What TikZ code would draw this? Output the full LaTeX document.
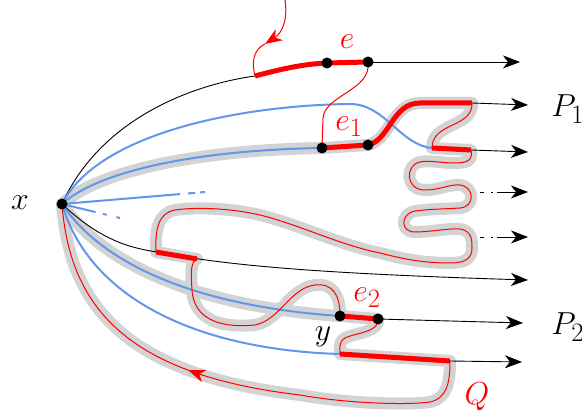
\documentclass[tikz,border=0pt]{standalone}
\usetikzlibrary{arrows.meta,decorations.markings}
\definecolor{bandgray}{RGB}{211,211,211}
\definecolor{cblue}{RGB}{100,149,237}
\tikzset{
  band/.style={draw=bandgray, line width=12pt, line cap=round, line join=round},
  bl/.style={draw=cblue, line width=2pt},
  thinred/.style={draw=red, line width=1pt},
  thickred/.style={draw=red, line width=5pt},
  blk/.style={draw=black, line width=0.9pt},
  arr/.style={-{Stealth[length=17pt,width=13pt,inset=5pt]}},
  dotnode/.style={circle, fill=black, inner sep=0pt, minimum size=11pt},
  lab/.style={inner sep=0pt, font=\Huge, scale=1.28},
  dashdot/.style={draw=black, line width=0.9pt, dash pattern=on 4pt off 7pt on 1.5pt off 30pt}
}
\begin{document}
\begin{tikzpicture}[x=1pt,y=-1pt]
\useasboundingbox (0,0) rectangle (582,419);
% named points
\coordinate (X) at (62,204);
\coordinate (eA) at (255,76);
\coordinate (eB) at (327,63);
\coordinate (eC) at (368,62);
\coordinate (eEnd) at (520,62);
\coordinate (d1) at (322,148);
\coordinate (d2) at (368,145);
\coordinate (t1) at (472,103);
\coordinate (p1end) at (528,105);
\coordinate (b1) at (432,148);
\coordinate (t2) at (471,150);
\coordinate (t2end) at (528,152);
\coordinate (w1) at (156,252);
\coordinate (w2) at (197,259);
\coordinate (yy) at (340,316);
\coordinate (ff) at (378,319);
\coordinate (p2end) at (523,323);
\coordinate (g1) at (340,354);
\coordinate (g2) at (450,361);
\coordinate (g2end) at (522,362);
\coordinate (blkend) at (528,280);
\coordinate (dd1a) at (480,192);
\coordinate (dd1b) at (497,192);
\coordinate (dd1c) at (528,192);
\coordinate (dd2a) at (480,237);
\coordinate (dd2b) at (497,237);
\coordinate (dd2c) at (528,237);
\coordinate (rTop) at (285,0);
\coordinate (rMid) at (265,44);
\coordinate (bs1) at (205,192);
\coordinate (bs2) at (120,218);

% gray bands
\path[band] (X) .. controls (100,170) and (200,150) .. (d1) -- (d2)
  .. controls (390,140) and (392,103) .. (420,103) -- (t1)
  .. controls (473,128) and (432,122) .. (b1) -- (t2)
  .. controls (473,160) and (468,163) .. (455,163)
  .. controls (440,163) and (430,160) .. (420,162)
  .. controls (405,165) and (405,190) .. (425,190)
  .. controls (440,190) and (450,184) .. (460,185)
  .. controls (475,187) and (475,207) .. (460,208)
  .. controls (445,209) and (430,209) .. (415,211)
  .. controls (400,214) and (400,232) .. (415,232)
  .. controls (430,232) and (450,228) .. (460,229)
  .. controls (472,231) and (472,240) .. (472,248)
  .. controls (472,258) and (466,263) .. (450,263)
  .. controls (420,263) and (400,258) .. (380,253)
  .. controls (340,245) and (300,225) .. (260,215)
  .. controls (230,208) and (195,207) .. (175,210)
  .. controls (158,213) and (155,230) .. (w1) -- (w2)
  .. controls (190,262) and (191,275) .. (192,290)
  .. controls (194,322) and (225,328) .. (255,325)
  .. controls (280,320) and (290,288) .. (315,285)
  .. controls (333,283) and (340,295) .. (yy) -- (ff)
  .. controls (380,332) and (355,333) .. (345,338)
  .. controls (338,342) and (340,350) .. (g1) -- (g2)
  .. controls (450,380) and (448,398) .. (430,402)
  .. controls (410,405) and (350,404) .. (300,395)
  .. controls (130,375) and (70,310) .. (X);
\path[band] (X) .. controls (110,275) and (220,308) .. (yy);

% black curves
\draw[blk] (X) .. controls (100,120) and (190,85) .. (eA);
\draw[blk, arr] (eC) -- (eEnd);
\draw[blk, arr] (X) .. controls (100,240) and (130,248) .. (157,252)
  .. controls (220,264) and (300,273) .. (blkend);
\draw[blk, arr] (t1) -- (p1end);
\draw[blk, arr] (t2) -- (t2end);
\draw[blk, arr] (ff) -- (p2end);
\draw[blk, arr] (g2) -- (g2end);
\draw[dashdot] (dd1a) -- (dd1b);
\draw[blk, arr] (dd1b) -- (dd1c);
\draw[dashdot] (dd2a) -- (dd2b);
\draw[blk, arr] (dd2b) -- (dd2c);

% blue curves
\draw[bl] (X) .. controls (100,130) and (250,105) .. (350,104)
  .. controls (385,104) and (400,145) .. (b1);
\draw[bl] (X) .. controls (100,170) and (200,150) .. (d1);
\draw[bl, dash pattern=on 118.6pt off 8pt on 7pt off 5pt on 6pt off 200pt] (X) -- (bs1);
\draw[bl, dash pattern=on 34.5pt off 7.5pt on 4pt off 10pt on 4pt off 100pt] (X) -- (bs2);
\draw[bl] (X) .. controls (110,275) and (220,308) .. (yy);
\draw[bl] (X) .. controls (90,300) and (200,350) .. (g1);

% thin red
\draw[thinred, arr] (rTop) .. controls (288,20) and (282,33) .. (rMid);
\draw[thinred] (rMid) .. controls (252,50) and (252,65) .. (eA);
\draw[thinred] (eC) .. controls (372,90) and (325,95) .. (323,118) -- (d1);
\draw[thinred] (t1) .. controls (473,128) and (432,122) .. (b1);
\draw[thinred] (t2)
  .. controls (473,160) and (468,163) .. (455,163)
  .. controls (440,163) and (430,160) .. (420,162)
  .. controls (405,165) and (405,190) .. (425,190)
  .. controls (440,190) and (450,184) .. (460,185)
  .. controls (475,187) and (475,207) .. (460,208)
  .. controls (445,209) and (430,209) .. (415,211)
  .. controls (400,214) and (400,232) .. (415,232)
  .. controls (430,232) and (450,228) .. (460,229)
  .. controls (472,231) and (472,240) .. (472,248)
  .. controls (472,258) and (466,263) .. (450,263)
  .. controls (420,263) and (400,258) .. (380,253)
  .. controls (340,245) and (300,225) .. (260,215)
  .. controls (230,208) and (195,207) .. (175,210)
  .. controls (158,213) and (155,230) .. (w1);
\draw[thinred] (w2)
  .. controls (190,262) and (191,275) .. (192,290)
  .. controls (194,322) and (225,328) .. (255,325)
  .. controls (280,320) and (290,288) .. (315,285)
  .. controls (333,283) and (340,295) .. (yy);
\draw[thinred] (ff)
  .. controls (380,332) and (355,333) .. (345,338)
  .. controls (338,342) and (340,350) .. (g1);
\draw[thinred, decoration={markings, mark=at position 0.57 with {\arrow{Stealth[length=17pt,width=13pt,inset=5pt]}}}, postaction={decorate}] (g2)
  .. controls (450,380) and (448,398) .. (430,402)
  .. controls (410,405) and (350,404) .. (300,395)
  .. controls (130,375) and (70,310) .. (X);

% thick red
\draw[thickred] (eA) .. controls (285,68) and (305,64) .. (eB) -- (eC);
\draw[thickred] (d1) -- (d2) .. controls (390,140) and (392,103) .. (420,103) -- (t1);
\draw[thickred] (b1) -- (t2);
\draw[thickred] (w1) -- (w2);
\draw[thickred] (yy) -- (ff);
\draw[thickred] (g1) -- (g2);

% dots
\node[dotnode] (nX) at (X) {};
\node[dotnode] (neB) at (eB) {};
\node[dotnode] (neC) at (eC) {};
\node[dotnode] (nd1) at (d1) {};
\node[dotnode] (nd2) at (d2) {};
\node[dotnode] (ny) at (yy) {};
\node[dotnode] (nf) at (ff) {};

% labels
\node[lab] (lx) at (20,203) {$x$};
\node[lab, text=red] (le) at (347,42) {$e$};
\node[lab, text=red] (le1) at (349,127) {$e_1$};
\node[lab, text=red] (le2) at (367,298) {$e_2$};
\node[lab] (ly) at (323,337) {$y$};
\node[lab, anchor=base west] (lp1) at (551,117) {$P_1$};
\node[lab, anchor=base west] (lp2) at (551,335) {$P_2$};
\node[lab, text=red] (lq) at (477,397) {$Q$};
\end{tikzpicture}
\end{document}
